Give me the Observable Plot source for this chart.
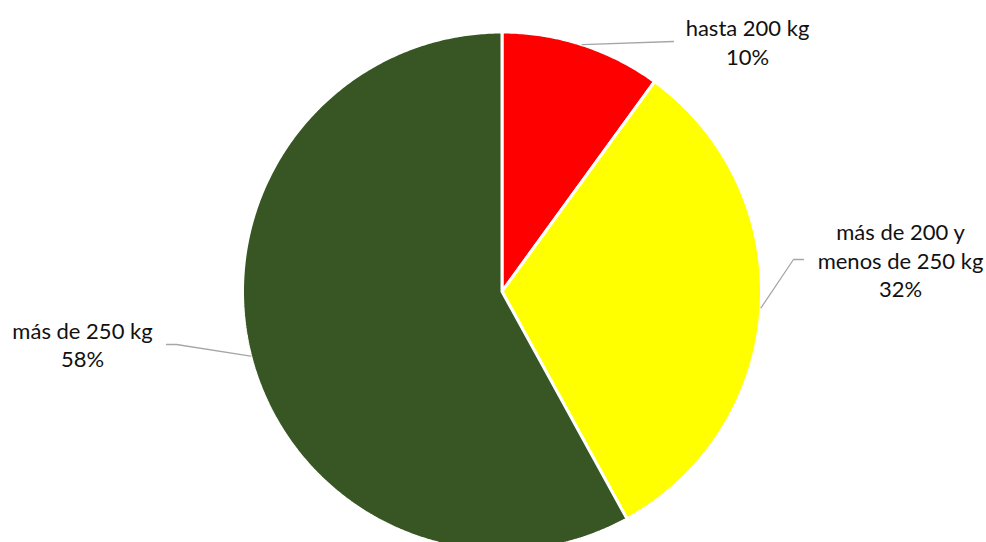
<!DOCTYPE html>
<html>
<head>
<meta charset="utf-8">
<script src="https://cdn.jsdelivr.net/npm/d3@7"></script>
<script src="https://cdn.jsdelivr.net/npm/@observablehq/plot@0.6"></script>
<style>
  html, body { margin: 0; padding: 0; background: #fff; }
  #chart svg { display: block; }
</style>
</head>
<body>
<div id="chart"></div>
<script>
// ---- data ----
const categories = ["hasta 200 kg", "más de 200 y menos de 250 kg", "más de 250 kg"];
const labelTexts = ["hasta 200 kg\n10%", "más de 200 y\nmenos de 250 kg\n32%", "más de 250 kg\n58%"];
const values = [10, 32, 58];
const colors = ["#ff0000", "#ffff00", "#375623"];

// ---- layout ----
const W = 986, H = 542;
const cx = 501.5, cy = 291, R = 259.5;
// label anchor (center x, baseline of last line) and leader elbow points
const labelLayout = [
  {x: 747, y: 64, elbow: [[673, 41]]},
  {x: 900, y: 296.5, elbow: [[793, 259], [803, 259]]},
  {x: 82, y: 366.5, elbow: [[176, 344], [166, 344]]}
];

const pie = d3.pie().sort(null).value(d => d)(values);
const pt = (a, r) => [cx + r * Math.sin(a), cy - r * Math.cos(a)];

const wedgePts = [];
pie.forEach((p, i) => {
  const n = Math.max(2, Math.ceil((p.endAngle - p.startAngle) / (Math.PI / 360)));
  const pts = [[cx, cy]];
  for (let k = 0; k <= n; k++) {
    pts.push(pt(p.startAngle + (p.endAngle - p.startAngle) * k / n, R));
  }
  pts.push([cx, cy]);
  pts.forEach(([x, y]) => wedgePts.push({x, y, slice: categories[i], color: colors[i]}));
});

const leaderPts = [];
pie.forEach((p, i) => {
  const mid = (p.startAngle + p.endAngle) / 2;
  const s = pt(mid, R);
  leaderPts.push({x: s[0], y: s[1], slice: categories[i]});
  labelLayout[i].elbow.forEach(([x, y]) => leaderPts.push({x, y, slice: categories[i]}));
});

const labels = labelTexts.map((t, i) => ({text: t, x: labelLayout[i].x, y: labelLayout[i].y}));

const chart = Plot.plot({
  width: W,
  height: H,
  margin: 0,
  x: {domain: [0, W], range: [0, W], axis: null},
  y: {domain: [0, H], range: [0, H], axis: null},
  color: {type: "identity"},
  style: {fontFamily: "Lato, 'Open Sans', sans-serif", background: "#fff"},
  marks: [
    Plot.line(wedgePts, {x: "x", y: "y", z: "slice", fill: "color", stroke: "#fff", strokeWidth: 3, strokeLinejoin: "miter", curve: "linear"}),
    Plot.line(leaderPts, {x: "x", y: "y", z: "slice", stroke: "#a6a6a6", strokeWidth: 1.3, curve: "linear"}),
    Plot.text(labels, {x: "x", y: "y", text: "text", fontSize: 22, lineHeight: 28.5 / 22, lineAnchor: "bottom", textAnchor: "middle", fill: "#111"})
  ]
});
document.getElementById("chart").appendChild(chart);
</script>
</body>
</html>
